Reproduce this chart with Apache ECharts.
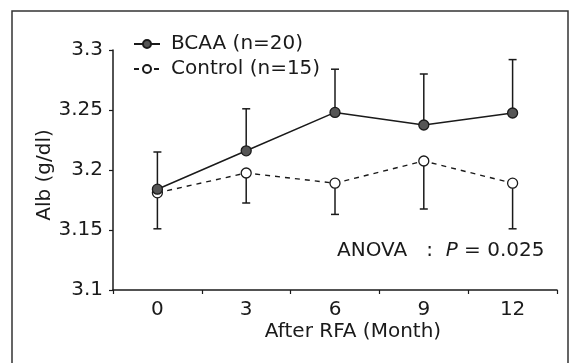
<!DOCTYPE html>
<html>
<head>
<meta charset="utf-8">
<script src="https://cdn.jsdelivr.net/npm/echarts@6/dist/echarts.min.js"></script>
<style>
html,body{margin:0;padding:0;background:#fff;}
#c{width:570px;height:363px;}
</style>
</head>
<body>
<div id="c"></div>
<script>
var months = ['0', '3', '6', '9', '12'];
var yTicks = [3.1, 3.15, 3.2, 3.25, 3.3];
var bcaaMean = [3.184, 3.216, 3.248, 3.2375, 3.2475];
var bcaaUpper = [3.215, 3.251, 3.284, 3.28, 3.292];
var ctrlMean = [3.181, 3.1975, 3.189, 3.2075, 3.189];
var ctrlLower = [3.151, 3.1725, 3.163, 3.1675, 3.151];

var FONT = '"DejaVu Sans", "Liberation Sans", Arial, sans-serif';
var FS = 20;
var INK = '#1a1a1a';

function errData(mean, end) {
  return mean.map(function (m, i) { return [i, m, end[i]]; });
}
function errRender(params, api) {
  var i = api.value(0);
  var p1 = api.coord([i, api.value(1)]);
  var p2 = api.coord([i, api.value(2)]);
  var hw = 4;
  return {
    type: 'group',
    children: [
      { type: 'line', shape: { x1: p1[0], y1: p1[1], x2: p2[0], y2: p2[1] }, style: { stroke: INK, lineWidth: 1.5 } },
      { type: 'line', shape: { x1: p2[0] - hw, y1: p2[1], x2: p2[0] + hw, y2: p2[1] }, style: { stroke: INK, lineWidth: 1.5 } }
    ]
  };
}

var chart = echarts.init(document.getElementById('c'), null, { renderer: 'canvas' });
chart.setOption({
  animation: false,
  backgroundColor: '#fff',
  textStyle: { fontFamily: FONT, color: INK },
  grid: { left: 113, right: 13, top: 50, bottom: 73 },
  legend: {
    left: 128, top: 29, orient: 'vertical', itemGap: 5,
    itemWidth: 26, itemHeight: 10,
    textStyle: { fontFamily: FONT, fontSize: FS, color: INK, padding: [0, 0, 0, 6] },
    data: ['BCAA (n=20)', 'Control (n=15)']
  },
  xAxis: {
    type: 'category', data: months, boundaryGap: true,
    name: 'After RFA (Month)', nameLocation: 'middle', nameGap: 32, nameMoveOverlap: false,
    nameTextStyle: { fontFamily: FONT, fontSize: FS, color: INK, padding: [0, 0, 0, 36] },
    axisLine: { lineStyle: { color: INK, width: 1.5 } },
    axisTick: { show: true, length: 4, alignWithLabel: false, lineStyle: { color: INK, width: 1.2 } },
    axisLabel: { fontFamily: FONT, fontSize: FS, color: INK, margin: 10 },
    splitLine: { show: false }
  },
  yAxis: {
    type: 'value', min: 3.1, max: 3.3, interval: 0.05,
    name: 'Alb (g/dl)', nameLocation: 'middle', nameGap: 58, nameRotate: 90, nameMoveOverlap: false,
    nameTextStyle: { fontFamily: FONT, fontSize: FS, color: INK, padding: [0, 10, 0, 0] },
    axisLine: { show: true, lineStyle: { color: INK, width: 1.5 } },
    axisTick: { show: true, length: 4, lineStyle: { color: INK, width: 1.2 } },
    axisLabel: {
      fontFamily: FONT, fontSize: FS, color: INK, margin: 10,
      formatter: function (v) {
        var t = yTicks.filter(function (x) { return Math.abs(x - v) < 1e-6; });
        return t.length ? String(t[0]) : '';
      }
    },
    splitLine: { show: false }
  },
  graphic: [
    { type: 'rect', shape: { x: 12, y: 11, width: 556, height: 360 }, style: { fill: 'none', stroke: '#333', lineWidth: 1.5 }, z: 0 },
    {
      type: 'text', left: 337, top: 241,
      style: {
        text: 'ANOVA   :  {i|P} = 0.025',
        font: FS + 'px ' + FONT, fill: INK,
        rich: { i: { fontStyle: 'italic', fontFamily: FONT, fontSize: FS, fill: INK } }
      }
    }
  ],
  series: [
    {
      type: 'custom', name: 'bcaaErr', renderItem: errRender, data: errData(bcaaMean, bcaaUpper), z: 1,
      encode: { x: 0, y: [1, 2] }, silent: true
    },
    {
      type: 'custom', name: 'ctrlErr', renderItem: errRender, data: errData(ctrlMean, ctrlLower), z: 1,
      encode: { x: 0, y: [1, 2] }, silent: true
    },
    {
      name: 'Control (n=15)', type: 'line', data: ctrlMean, z: 3,
      symbol: 'circle', symbolSize: 10,
      lineStyle: { color: INK, width: 1.4, type: [5, 5] },
      itemStyle: { color: '#fff', borderColor: INK, borderWidth: 1.3 }
    },
    {
      name: 'BCAA (n=20)', type: 'line', data: bcaaMean, z: 4,
      symbol: 'circle', symbolSize: 10,
      lineStyle: { color: INK, width: 1.5 },
      itemStyle: { color: '#555', borderColor: INK, borderWidth: 1.3 }
    }
  ]
});
</script>
</body>
</html>
